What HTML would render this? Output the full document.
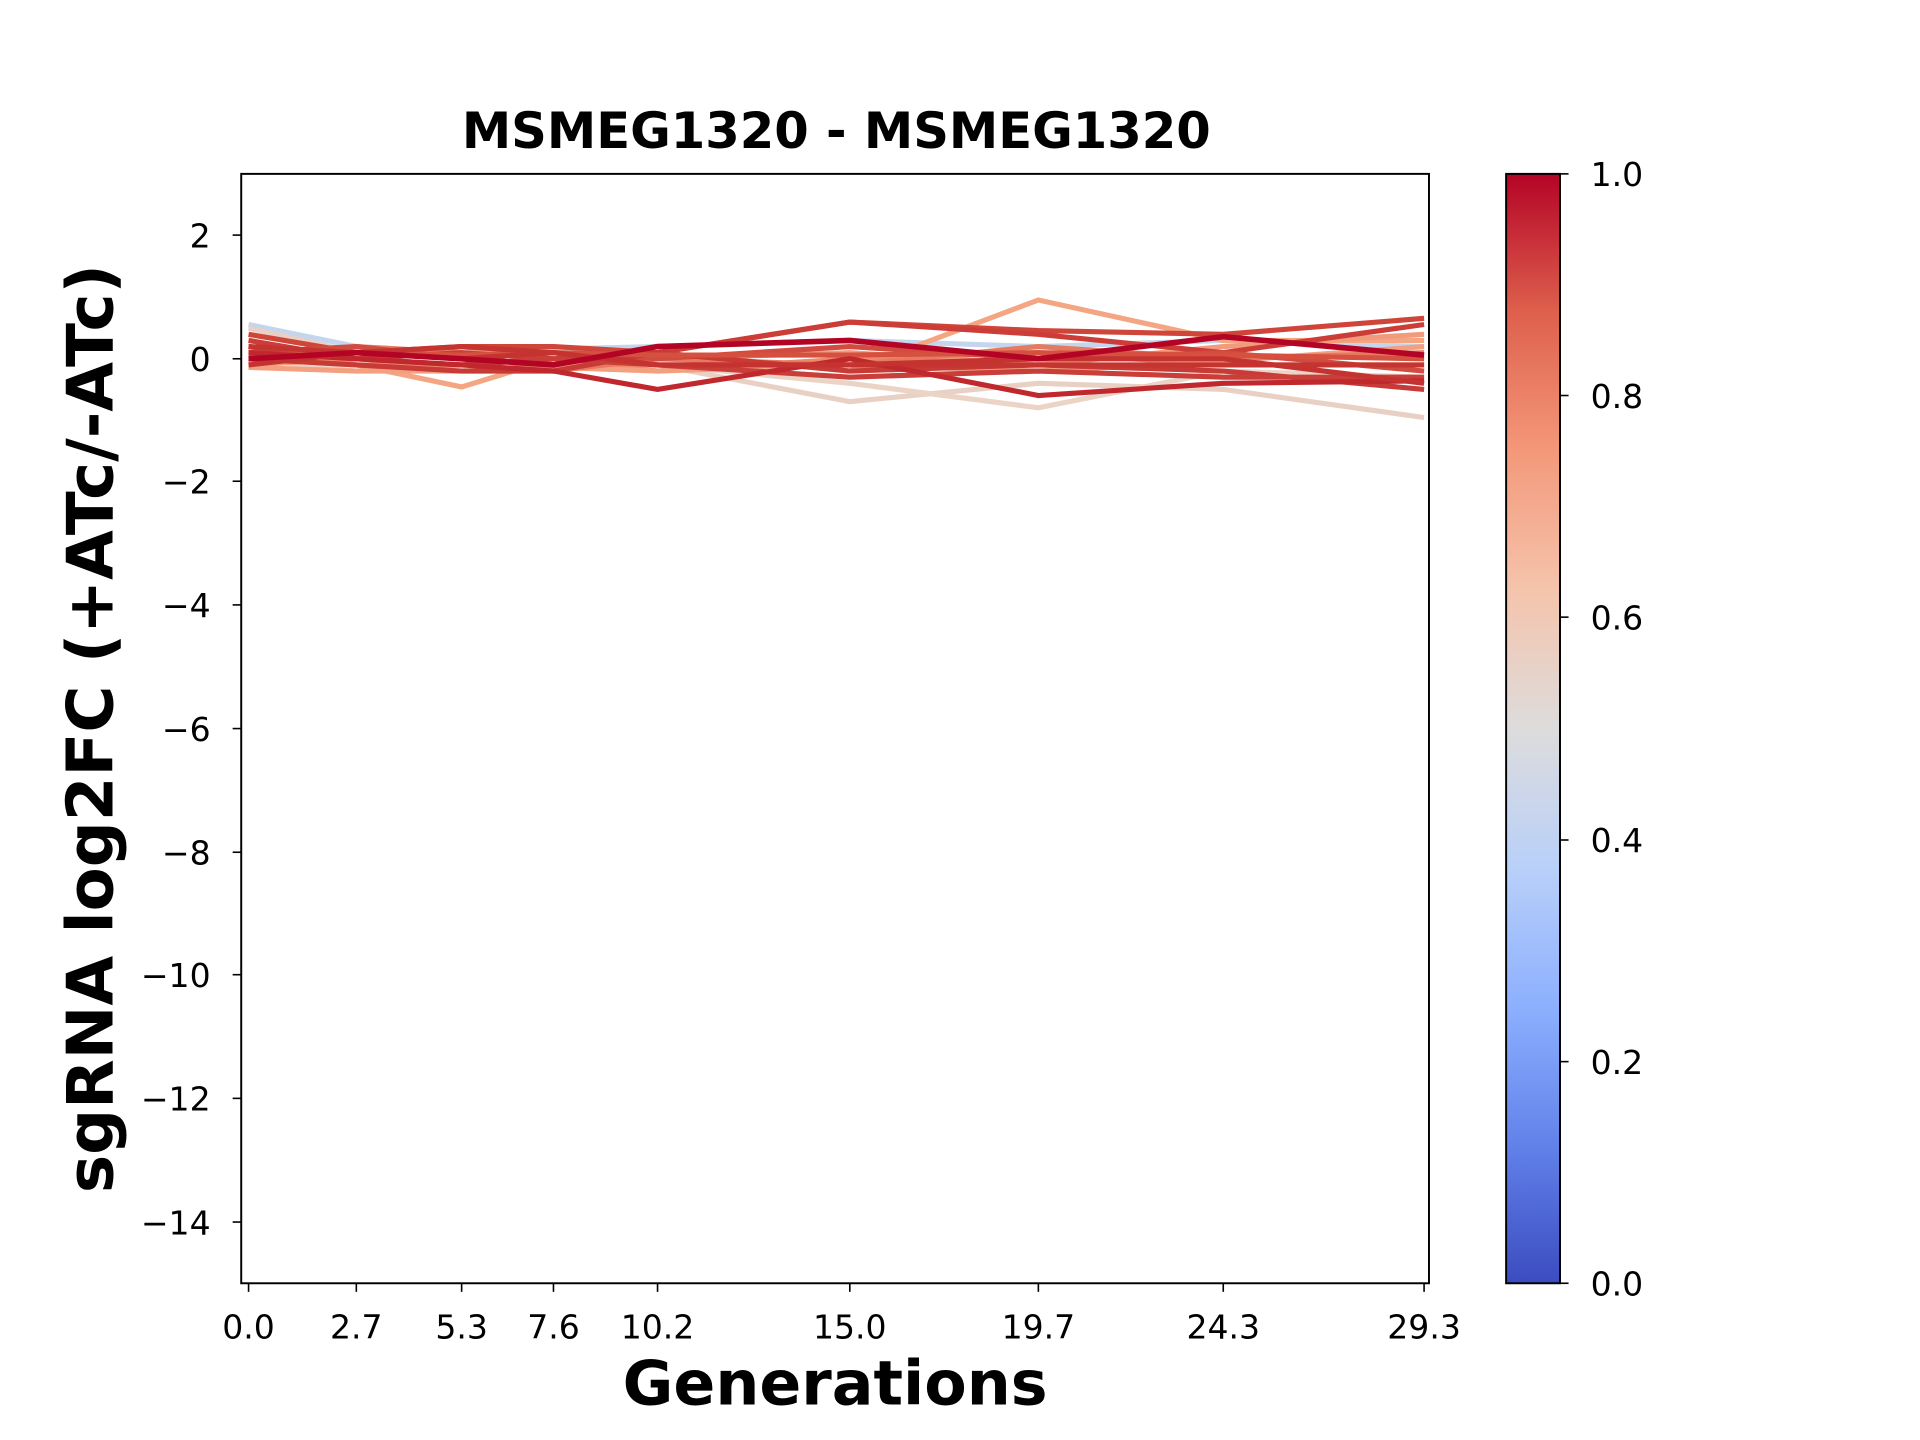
<!DOCTYPE html>
<html><head><meta charset="utf-8"><style>html,body{margin:0;padding:0;background:#fff}svg{display:block}</style></head>
<body>
<svg width="1920" height="1440" viewBox="0 0 1568 1176" xmlns="http://www.w3.org/2000/svg" font-family="DejaVu Sans, Liberation Sans, sans-serif">
<defs><linearGradient id="cw" x1="0" y1="1" x2="0" y2="0">
<stop offset="0" stop-color="#3b4cc0"/><stop offset="0.125" stop-color="#6282ea"/><stop offset="0.25" stop-color="#8db0fe"/><stop offset="0.375" stop-color="#b9d0f9"/><stop offset="0.5" stop-color="#dddcdc"/><stop offset="0.625" stop-color="#f5c4ac"/><stop offset="0.75" stop-color="#f4987a"/><stop offset="0.875" stop-color="#de604d"/><stop offset="1" stop-color="#b40426"/></linearGradient>
<clipPath id="ax"><rect x="197" y="142" width="970" height="906"/></clipPath></defs>
<rect width="1568" height="1176" fill="#fff"/>
<g clip-path="url(#ax)" fill="none" stroke-width="4.2" stroke-linejoin="miter">
<polyline stroke="#c5d5ee" points="203,265 291,283 377,288 452,285 537,283 694,278 848,283 999,278 1163,283"/>
<polyline stroke="#e8d0c4" points="203,268 291,288 377,293 452,283 537,298 694,328 848,313 999,318 1163,341"/>
<polyline stroke="#ebd3c6" points="203,293 291,303 377,298 452,298 537,298 694,313 848,333 999,303 1163,308"/>
<polyline stroke="#f4a582" points="203,293 291,298 377,316 452,293 537,288 694,303 848,245 999,278 1163,278"/>
<polyline stroke="#f19a7c" points="203,298 291,293 377,283 452,298 537,293 694,288 848,298 999,283 1163,273"/>
<polyline stroke="#ee8a6c" points="203,283 291,298 377,298 452,293 537,303 694,293 848,288 999,298 1163,298"/>
<polyline stroke="#f3a080" points="203,300 291,303 377,303 452,300 537,303 694,298 848,303 999,295 1163,283"/>
<polyline stroke="#e67a61" points="203,288 291,283 377,288 452,303 537,293 694,298 848,283 999,293 1163,288"/>
<polyline stroke="#d0453a" points="203,273 291,288 377,283 452,283 537,288 694,263 848,270 999,273 1163,260"/>
<polyline stroke="#cc3d37" points="203,278 291,293 377,288 452,293 537,288 694,263 848,273 999,288 1163,265"/>
<polyline stroke="#d24b40" points="203,288 291,283 377,293 452,288 537,293 694,283 848,293 999,288 1163,303"/>
<polyline stroke="#c73a36" points="203,293 291,298 377,303 452,303 537,288 694,303 848,298 999,303 1163,318"/>
<polyline stroke="#c93e38" points="203,283 291,293 377,298 452,293 537,298 694,308 848,303 999,308 1163,308"/>
<polyline stroke="#d5503f" points="203,290 291,288 377,290 452,288 537,290 694,290 848,288 999,290 1163,293"/>
<polyline stroke="#c43431" points="203,283 291,288 377,283 452,288 537,298 694,298 848,298 999,298 1163,298"/>
<polyline stroke="#c0282d" points="203,288 291,293 377,298 452,303 537,318 694,293 848,323 999,313 1163,311"/>
<polyline stroke="#c53330" points="203,298 291,288 377,293 452,288 537,298 694,298 848,293 999,293 1163,313"/>
<polyline stroke="#b40426" stroke-width="4.6" points="203,293 291,288 377,293 452,298 537,283 694,278 848,293 999,275 1163,290"/>
</g>
<rect x="197" y="142" width="970" height="906" fill="none" stroke="#000" stroke-width="1.6"/>
<g stroke="#000" stroke-width="1.3">
<line x1="190" y1="192" x2="197" y2="192"/><line x1="190" y1="293" x2="197" y2="293"/><line x1="190" y1="393" x2="197" y2="393"/><line x1="190" y1="494" x2="197" y2="494"/><line x1="190" y1="595" x2="197" y2="595"/><line x1="190" y1="696" x2="197" y2="696"/><line x1="190" y1="796" x2="197" y2="796"/><line x1="190" y1="897" x2="197" y2="897"/><line x1="190" y1="998" x2="197" y2="998"/>
<line x1="203" y1="1048" x2="203" y2="1055"/><line x1="291" y1="1048" x2="291" y2="1055"/><line x1="377" y1="1048" x2="377" y2="1055"/><line x1="452" y1="1048" x2="452" y2="1055"/><line x1="537" y1="1048" x2="537" y2="1055"/><line x1="694" y1="1048" x2="694" y2="1055"/><line x1="848" y1="1048" x2="848" y2="1055"/><line x1="999" y1="1048" x2="999" y2="1055"/><line x1="1163" y1="1048" x2="1163" y2="1055"/>
</g>
<g font-size="27" text-anchor="end" fill="#000">
<text x="172" y="202">2</text><text x="172" y="303">0</text><text x="172" y="403">−2</text><text x="172" y="504">−4</text><text x="172" y="605">−6</text><text x="172" y="706">−8</text><text x="172" y="806">−10</text><text x="172" y="907">−12</text><text x="172" y="1008">−14</text>
</g>
<g font-size="27" text-anchor="middle" fill="#000">
<text x="203" y="1093">0.0</text><text x="291" y="1093">2.7</text><text x="377" y="1093">5.3</text><text x="452" y="1093">7.6</text><text x="537" y="1093">10.2</text><text x="694" y="1093">15.0</text><text x="848" y="1093">19.7</text><text x="999" y="1093">24.3</text><text x="1163" y="1093">29.3</text>
</g>
<text x="683" y="121" font-size="40.5" font-weight="bold" text-anchor="middle">MSMEG1320 - MSMEG1320</text>
<text x="682" y="1147" font-size="50.5" font-weight="bold" text-anchor="middle">Generations</text>
<text transform="translate(92,595) rotate(-90)" font-size="52.5" font-weight="bold" text-anchor="middle">sgRNA log2FC (+ATc/-ATc)</text>
<rect x="1230" y="142" width="44" height="906" fill="url(#cw)" stroke="#000" stroke-width="1.6"/>
<g stroke="#000" stroke-width="1.3">
<line x1="1274" y1="142" x2="1281" y2="142"/><line x1="1274" y1="323" x2="1281" y2="323"/><line x1="1274" y1="504" x2="1281" y2="504"/><line x1="1274" y1="686" x2="1281" y2="686"/><line x1="1274" y1="867" x2="1281" y2="867"/><line x1="1274" y1="1048" x2="1281" y2="1048"/>
</g>
<g font-size="27" fill="#000">
<text x="1299" y="152">1.0</text><text x="1299" y="333">0.8</text><text x="1299" y="514">0.6</text><text x="1299" y="696">0.4</text><text x="1299" y="877">0.2</text><text x="1299" y="1058">0.0</text>
</g>
</svg>
</body></html>
